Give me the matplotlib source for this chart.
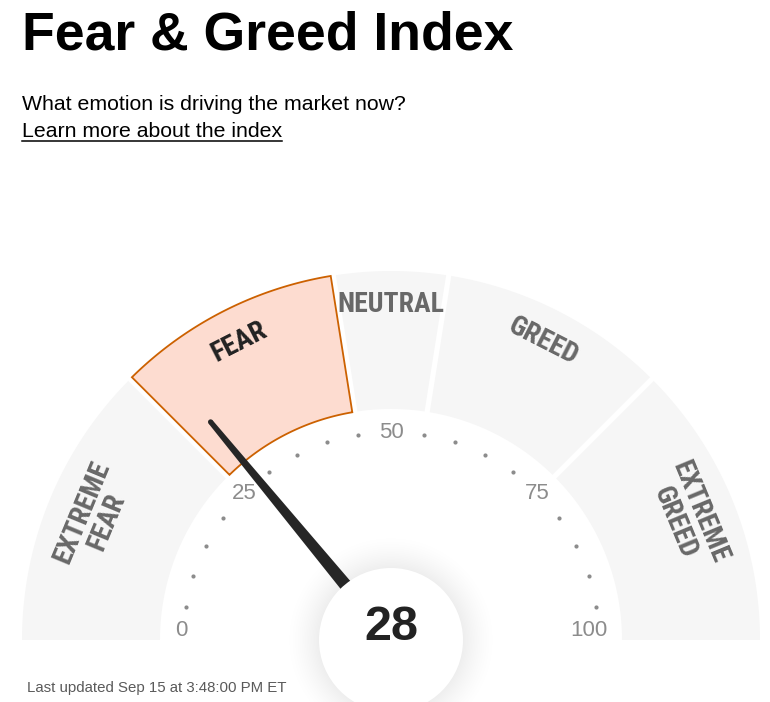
import matplotlib.pyplot as plt
from matplotlib import font_manager
from matplotlib.patches import Polygon, Circle
import numpy as np

# gauge data
zones = ["EXTREME\nFEAR", "FEAR", "NEUTRAL", "GREED", "EXTREME\nGREED"]
zone_edges = [0, 25, 45, 55, 75, 100]
score = 28
current_zone = "FEAR"
tick_values = [0, 25, 50, 75, 100]
dot_values = [v for v in range(0, 101, 5) if v % 25 != 0]

title = "Fear & Greed Index"
subtitle = "What emotion is driving the market now?"
link_text = "Learn more about the index"
footer = "Last updated Sep 15 at 3:48:00 PM ET"

# layout in pixels (y grows downward)
cx, cy = 391, 640
r_in, r_out = 231, 369
gap = 2.6

plt.rcParams['font.family'] = ['Liberation Sans', 'DejaVu Sans']

# look for a narrow bold face for the zone names
fonts = font_manager.fontManager.ttflist
names = {f.name for f in fonts}
zone_font = None
zone_stretch = "normal"
zone_size = 16
for cand in ["Liberation Sans Narrow", "Roboto Condensed", "Open Sans Condensed", "Arial Narrow"]:
    if cand in names:
        zone_font, zone_size = cand, 20
        break
if zone_font is None:
    for f in fonts:
        if f.name == "DejaVu Sans" and f.stretch == "condensed":
            zone_font, zone_stretch, zone_size = "DejaVu Sans", "condensed", 17.5
            break
if zone_font is None:
    zone_font = "Liberation Sans"

fig = plt.figure(figsize=(7.7, 7.02), dpi=100)
ax = fig.add_axes([0, 0, 1, 1])
ax.axis("off")


def to_deg(v):
    return 180 - v * 1.8


def point(r, deg):
    a = np.radians(deg)
    return cx + r * np.cos(a), cy - r * np.sin(a)


def segment(v0, v1):
    a0, a1 = to_deg(v0), to_deg(v1)
    pts = []
    for r, rev in [(r_out, False), (r_in, True)]:
        d = np.degrees(np.arcsin(gap / r))
        s = a0 - (d if v0 > 0 else 0)
        e = a1 + (d if v1 < 100 else 0)
        angs = np.linspace(s, e, 120)
        if rev:
            angs = angs[::-1]
        pts += [point(r, a) for a in angs]
    return pts


for i, name in enumerate(zones):
    v0, v1 = zone_edges[i], zone_edges[i + 1]
    active = name == current_zone
    poly = Polygon(segment(v0, v1), closed=True,
                   facecolor="#fddcd0" if active else "#f6f6f6",
                   edgecolor="#cc6100" if active else "none",
                   linewidth=1.3, zorder=1)
    ax.add_patch(poly)
    mid = to_deg((v0 + v1) / 2)
    two = "\n" in name
    x, y = point(321 if two else 335, mid)
    ax.text(x, y, name, rotation=mid - 90, ha="center", va="center",
            rotation_mode="anchor", fontsize=zone_size, fontweight="bold",
            family=[zone_font, 'DejaVu Sans'], fontstretch=zone_stretch,
            color="#222222" if active else "#686868", linespacing=1.0,
            multialignment="center", zorder=3)

# dots and tick labels
for v in dot_values:
    x, y = point(208, to_deg(v))
    ax.plot(x, y, "o", ms=3, color="#8c8c8c", mec="none", zorder=2)
for v in tick_values:
    if v == 0:
        x, y = point(216, 180)
        ax.text(x, y + 1, str(v), ha="left", va="bottom", fontsize=16,
                color="#8c8c8c", zorder=2)
    elif v == 100:
        x, y = point(216, 0)
        ax.text(x, y + 1, str(v), ha="right", va="bottom", fontsize=16,
                color="#8c8c8c", zorder=2)
    else:
        x, y = point(207, to_deg(v))
        ax.text(x, y, str(v), ha="center", va="center", fontsize=16,
                color="#8c8c8c", zorder=2)

# soft halo round the centre disc (radial gradient image)
half = 120
g = np.linspace(-half, half, 241)
gx, gy = np.meshgrid(g, g)
rr = np.hypot(gx, gy)
halo = np.zeros(rr.shape + (4,))
halo[..., 3] = 0.07 * np.clip((108 - rr) / 36, 0, 1) ** 1.6
ax.imshow(halo, extent=(cx - half, cx + half, cy + half, cy - half),
          interpolation="bilinear", zorder=4)

# needle
ang = np.radians(to_deg(score))
u = np.array([np.cos(ang), -np.sin(ang)])
n = np.array([np.sin(ang), np.cos(ang)])
c = np.array([cx, cy])
tip = c + u * 283
needle = [c + n * 7.5, tip + n * 2.6, tip - n * 2.6, c - n * 7.5]
ax.add_patch(Polygon(needle, closed=True, facecolor="#262626", edgecolor="none", zorder=5))
ax.add_patch(Circle(tuple(tip), 2.6, facecolor="#262626", edgecolor="none", zorder=5))

ax.add_patch(Circle((cx, cy), 72, facecolor="white", edgecolor="none", zorder=6))
ax.text(cx, cy, str(score), ha="center", va="baseline", fontsize=35,
        fontweight="bold", color="#222222", zorder=7)

ax.set_xlim(0, 770)
ax.set_ylim(702, 0)
ax.set_aspect("auto")

# header and footer
ax.text(22, 49, title, ha="left", va="baseline", fontsize=38.5, fontweight="bold", color="black")
ax.text(22, 110, subtitle, ha="left", va="baseline", fontsize=15.3, color="black")
link = ax.text(22, 137, link_text, ha="left", va="baseline", fontsize=15.3, color="black")
fig.canvas.draw()
bb = link.get_window_extent(fig.canvas.get_renderer())
x0, _ = ax.transData.inverted().transform((bb.x0, bb.y0))
x1, _ = ax.transData.inverted().transform((bb.x1, bb.y0))
ax.plot([x0, x1], [140.5, 140.5], color="black", lw=1.1)

ax.text(27, 692, footer, ha="left", va="baseline", fontsize=10.8, color="#5a5a5a")

fig.savefig("out.png", dpi=100, facecolor="white")
